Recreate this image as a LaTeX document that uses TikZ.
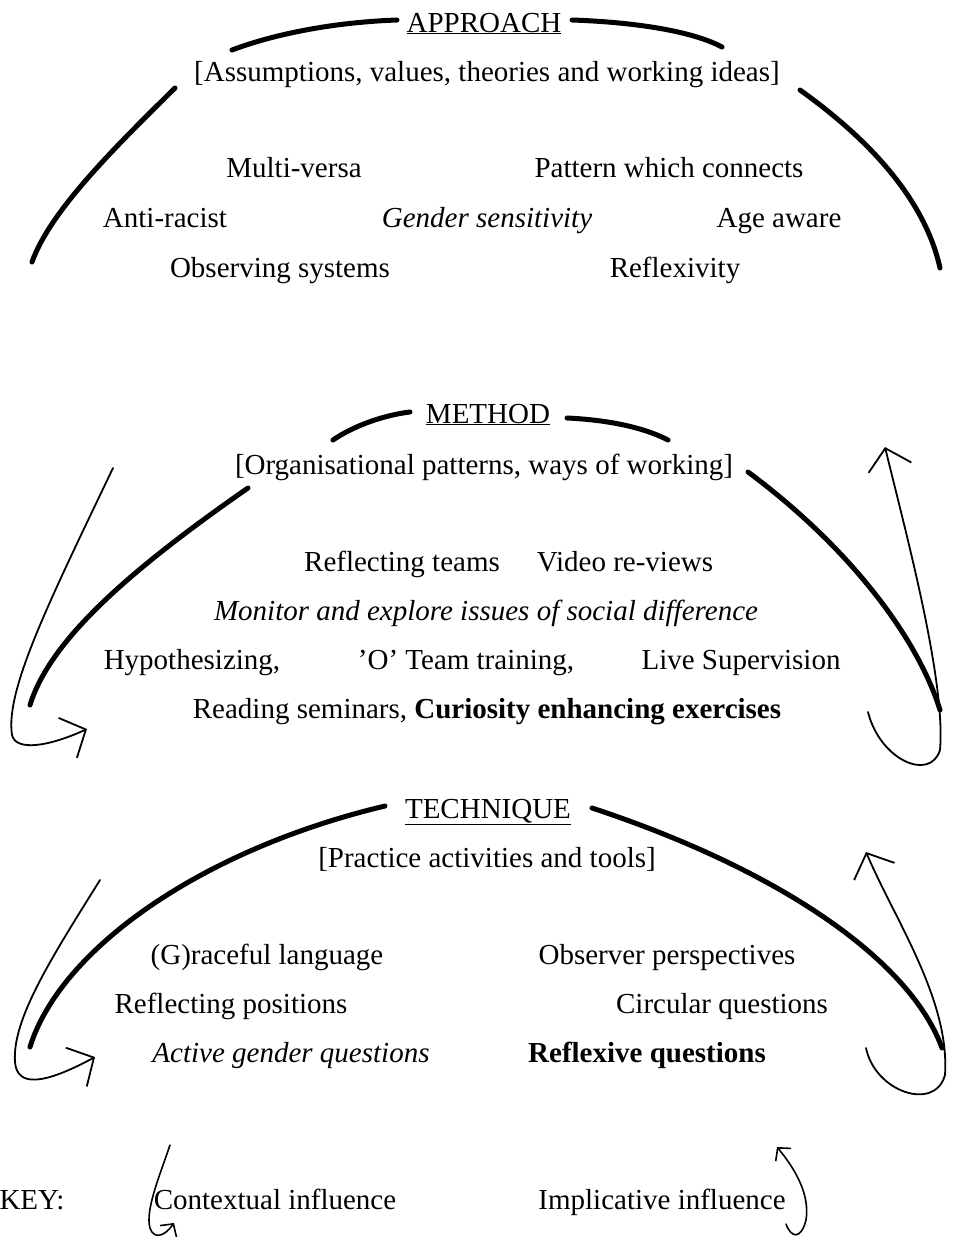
\documentclass[tikz,border=0pt]{standalone}
\usepackage{fontspec}
\setmainfont{Liberation Serif}
\usetikzlibrary{arrows.meta}

\begin{document}
\begin{tikzpicture}[x=1pt,y=-1pt,
  every node/.style={font=\fontsize{29}{34}\selectfont,inner sep=0pt,anchor=base},
  dome/.style={line width=5pt,line cap=round},
  infl/.style={line width=1.8pt,line cap=round,-{Straight Barb[length=20pt,width=44pt]}},
  keyinfl/.style={line width=1.6pt,line cap=round,-{Straight Barb[length=9pt,width=20pt]}}]
\useasboundingbox (0,0) rectangle (962,1240);
% approach
\node (apprT) at (484,32) {\underline{APPROACH}};
\node (apprS) at (487,81) {[Assumptions, values, theories and working ideas]};
\node (multi) at (294,177) {Multi-versa}; \node (patt) at (669,177) {Pattern which connects};
\node (anti) at (165,227) {Anti-racist}; \node (gend) at (487,227) {\itshape Gender sensitivity}; \node (age) at (779,227) {Age aware};
\node (obs) at (280,277) {Observing systems}; \node (reflx) at (675,277) {Reflexivity};
\coordinate (a1) at (232,50); \coordinate (a2) at (397,20); \coordinate (a3) at (572,20); \coordinate (a4) at (722,47);
\coordinate (a5) at (175,88); \coordinate (a6) at (32,262); \coordinate (a7) at (800,90); \coordinate (a8) at (940,268);
\draw[dome] (a1) .. controls (280,32) and (340,22) .. (a2);
\draw[dome] (a3) .. controls (630,22) and (690,30) .. (a4);
\draw[dome] (a5) .. controls (110,152) and (50,212) .. (a6);
\draw[dome] (a7) .. controls (870,140) and (925,200) .. (a8);
% method
\node (methT) at (488,423) {\underline{METHOD}};
\node (methS) at (484,474) {[Organisational patterns, ways of working]};
\node (rteam) at (402,571) {Reflecting teams}; \node (video) at (625,571) {Video re-views};
\node (monit) at (486,620) {\itshape Monitor and explore issues of social difference};
\node (hypo) at (192,669) {Hypothesizing,}; \node (oteam) at (466,669) {'O' Team training,}; \node (live) at (741,669) {Live Supervision};
\node (read) at (487,718) {Reading seminars, \textbf{Curiosity enhancing exercises}};
\coordinate (m1) at (333,440); \coordinate (m2) at (410,412); \coordinate (m3) at (567,418); \coordinate (m4) at (668,440);
\coordinate (m5) at (248,488); \coordinate (m6) at (30,705); \coordinate (m7) at (748,472); \coordinate (m8) at (940,710);
\draw[dome] (m1) .. controls (355,425) and (385,415) .. (m2);
\draw[dome] (m3) .. controls (610,420) and (645,428) .. (m4);
\draw[dome] (m5) .. controls (130,570) and (50,640) .. (m6);
\draw[dome] (m7) .. controls (840,540) and (915,630) .. (m8);
% technique
\node (techT) at (488,818) {\underline{TECHNIQUE}};
\node (techS) at (487,867) {[Practice activities and tools]};
\node (grace) at (267,964) {(G)raceful language}; \node (obsp) at (667,964) {Observer perspectives};
\node (rpos) at (231,1013) {Reflecting positions}; \node (circ) at (722,1013) {Circular questions};
\node (actg) at (291,1062) {\itshape Active gender questions}; \node (rflq) at (647,1062) {\bfseries Reflexive questions};
\coordinate (t1) at (30,1047); \coordinate (t2) at (385,806); \coordinate (t3) at (592,808); \coordinate (t4) at (942,1048);
\draw[dome] (t1) .. controls (60,950) and (200,850) .. (t2);
\draw[dome] (t3) .. controls (780,870) and (910,960) .. (t4);
% influences
\coordinate (cm0) at (113,468); \coordinate (cm1) at (87,729);
\coordinate (im0) at (868,712); \coordinate (im1) at (885,447);
\coordinate (ct0) at (100,880); \coordinate (ct1) at (95,1057);
\coordinate (it0) at (866,1048); \coordinate (it1) at (866,852);
\draw[infl] (cm0) .. controls (50,600) and (5,690) .. (12,735) .. controls (16,752) and (50,746) .. (cm1);
\draw[infl] (im0) .. controls (880,760) and (930,782) .. (940,750) .. controls (946,680) and (905,530) .. (im1);
\draw[infl] (ct0) .. controls (50,960) and (12,1020) .. (15,1062) .. controls (17,1088) and (45,1084) .. (ct1);
\draw[infl] (it0) .. controls (875,1092) and (935,1112) .. (945,1075) .. controls (950,1000) and (895,920) .. (it1);
% key
\node (key) at (32,1209) {KEY:};
\node (ctx) at (275,1209) {Contextual influence};
\node (imp) at (662,1209) {Implicative influence};
\coordinate (ck0) at (170,1145); \coordinate (ck1) at (174,1223);
\coordinate (ik0) at (786,1224); \coordinate (ik1) at (777,1147);
\draw[keyinfl] (ck0) .. controls (160,1175) and (145,1210) .. (150,1228) .. controls (154,1240) and (165,1236) .. (ck1);
\draw[keyinfl] (ik0) .. controls (791,1238) and (801,1240) .. (806,1220) .. controls (810,1195) and (796,1170) .. (ik1);
\end{tikzpicture}
\end{document}
